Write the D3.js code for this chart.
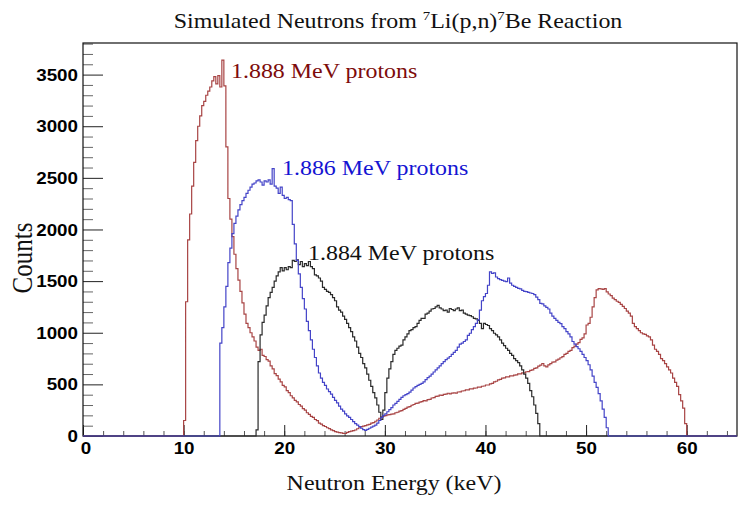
<!DOCTYPE html>
<html>
<head>
<meta charset="utf-8">
<script src="https://cdn.jsdelivr.net/npm/d3@7"></script>
<style>
  body { margin: 0; background: #fff; }
</style>
</head>
<body>
<div id="chart"></div>
<script>
// histogram bins are 0.2 keV wide, each series listed from its first non-empty bin
const binWidth = 0.2;

const p1888Start = 10.0;
const p1888 = [
  150, 1300, 1900, 2150, 2420, 2650, 2860, 3000, 3100, 3200,
  3240, 3300, 3340, 3380, 3440, 3480, 3410, 3490, 3380, 3640,
  3390, 2800, 2300, 2100, 1930, 1760, 1620, 1510, 1400, 1290,
  1180, 1090, 1050, 1000, 960, 920, 860, 830, 840, 780,
  770, 740, 725, 680, 650, 605, 585, 550, 525, 490,
  475, 440, 420, 390, 370, 345, 330, 305, 290, 265,
  250, 225, 210, 190, 180, 160, 148, 125, 115, 100,
  92, 80, 72, 60, 52, 42, 38, 33, 30, 26,
  24, 35, 42, 48, 52, 58, 70, 80, 90, 95,
  100, 108, 112, 124, 130, 143, 155, 172, 185, 192,
  198, 205, 207, 212, 215, 225, 230, 240, 245, 258,
  268, 280, 285, 298, 305, 315, 318, 328, 332, 342,
  340, 352, 355, 368, 372, 384, 386, 396, 394, 404,
  406, 414, 408, 416, 418, 415, 426, 428, 436, 438,
  446, 446, 456, 456, 464, 465, 474, 474, 482, 484,
  494, 494, 504, 510, 524, 530, 544, 548, 560, 562,
  572, 572, 582, 582, 590, 592, 602, 602, 612, 612,
  622, 624, 636, 640, 654, 660, 676, 686, 702, 680,
  670, 688, 700, 716, 718, 735, 745, 758, 768, 790,
  800, 820, 830, 855, 870, 890, 905, 935, 950, 990,
  1075, 1090, 1150, 1250, 1340, 1415, 1428, 1425, 1420, 1428,
  1395, 1375, 1360, 1335, 1320, 1305, 1295, 1275, 1255, 1235,
  1210, 1190, 1160, 1090, 1060, 1040, 1020, 1000, 990, 985,
  970, 960, 930, 880, 840, 820, 790, 750, 730, 700,
  670, 640, 610, 560, 520, 480, 400, 340, 270, 120
];

const p1886Start = 13.6;
const p1886 = [
  900, 1050, 1250, 1450, 1680, 1820, 1960, 2060, 2130, 2190,
  2240, 2280, 2310, 2350, 2380, 2410, 2440, 2450, 2470, 2480,
  2460, 2430, 2470, 2460, 2480, 2440, 2590, 2420, 2400, 2350,
  2410, 2330, 2300, 2310, 2290, 2280, 2050, 1860, 1700, 1570,
  1440, 1330, 1230, 1110, 1020, 930, 840, 760, 680, 610,
  560, 520, 490, 455, 430, 405, 375, 345, 320, 290,
  260, 240, 215, 195, 180, 160, 140, 120, 105, 90,
  75, 62, 55, 65, 75, 85, 95, 105, 125, 150,
  180, 200, 215, 235, 255, 275, 300, 315, 335, 355,
  375, 390, 400, 410, 425, 445, 465, 478, 490, 500,
  510, 525, 545, 565, 580, 600, 620, 640, 660, 680,
  700, 720, 740, 755, 770, 790, 810, 830, 860, 890,
  900, 915, 930, 975, 995, 1030, 1060, 1090, 1125, 1220,
  1310, 1350, 1380, 1460, 1590, 1575, 1580, 1540, 1525, 1515,
  1508, 1500, 1495, 1530, 1480, 1460, 1450, 1440, 1430, 1425,
  1410, 1400, 1398, 1390, 1385, 1380, 1370, 1345, 1320, 1285,
  1280, 1260, 1245, 1230, 1190, 1160, 1140, 1120, 1100, 1088,
  1060, 1040, 1010, 990, 960, 915, 890, 865, 845, 820,
  790, 760, 730, 690, 640, 580, 520, 470, 410, 340,
  260, 180, 80
];

const p1884Start = 17.2;
const p1884 = [
  60, 720, 980, 1100, 1170, 1260, 1340, 1390, 1440, 1500,
  1550, 1590, 1630, 1600, 1630, 1610, 1640, 1630, 1700, 1690,
  1705, 1660, 1690, 1640, 1670, 1650, 1690, 1640, 1620, 1560,
  1550, 1530, 1500, 1440, 1420, 1400, 1390, 1370, 1340, 1310,
  1250, 1220, 1200, 1160, 1130, 1090, 1050, 1010, 960, 920,
  860, 800, 760, 700, 660, 600, 540, 480, 420, 370,
  300, 230, 160, 250, 420, 560, 650, 720, 790, 830,
  850, 870, 880, 930, 960, 990, 1020, 1030, 1050, 1060,
  1090, 1120, 1140, 1140, 1180, 1190, 1210, 1230, 1235, 1250,
  1265, 1240, 1230, 1215, 1220, 1200, 1235, 1225, 1215, 1230,
  1240, 1215, 1220, 1190, 1180, 1170, 1165, 1155, 1140, 1135,
  1120, 1090, 1040, 1090, 1080, 1070, 1040, 1020, 995, 980,
  960, 930, 900, 875, 850, 830, 800, 780, 750, 730,
  710, 680, 640, 600, 560, 510, 440, 380, 300, 220,
  120
];

const xMajorTicks = [0, 10, 20, 30, 40, 50, 60];
const yMajorTicks = [0, 500, 1000, 1500, 2000, 2500, 3000, 3500];

const series = [
  { name: "1.888 MeV protons", start: p1888Start, values: p1888, line: "#a84444", text: "#7d0b0b", lx: 231, ly: 78 },
  { name: "1.884 MeV protons", start: p1884Start, values: p1884, line: "#2a2a2a", text: "#111", lx: 308, ly: 260 },
  { name: "1.886 MeV protons", start: p1886Start, values: p1886, line: "#4444c8", text: "#1414d2", lx: 282, ly: 175 }
];

const width = 745;
const height = 510;
const stretch = 1.14; // the picture's lettering is a little wider than the fonts

const x = d3.scaleLinear().domain([0, 65]).range([83, 737]);
const y = d3.scaleLinear().domain([0, 3806]).range([436, 43]);

const svg = d3.select("#chart")
  .append("svg")
  .attr("width", width)
  .attr("height", height)
  .style("font-family", "'Liberation Serif', 'Times New Roman', serif");

function stretchedText(px, py, str, size, anchor) {
  return svg.append("text")
    .attr("transform", `translate(${px},${py}) scale(${stretch},1)`)
    .attr("text-anchor", anchor)
    .attr("font-size", size)
    .text(str);
}

// x axis ticks point up into the frame
svg.append("g")
  .attr("transform", `translate(0,${y(0)})`)
  .call(d3.axisBottom(x).tickValues(d3.range(0, 65, 2)).tickSize(-5).tickFormat(""))
  .call(g => g.select(".domain").remove())
  .selectAll("line").attr("stroke", "#555");

const xAxis = svg.append("g")
  .attr("transform", `translate(0,${y(0)})`)
  .call(d3.axisBottom(x).tickValues(xMajorTicks).tickSize(-11).tickPadding(6).tickFormat(d3.format("d")))
  .call(g => g.select(".domain").remove());
xAxis.selectAll("line").attr("stroke", "#222");
xAxis.selectAll("text")
  .attr("font-family", "'Liberation Sans', Arial, sans-serif")
  .attr("font-weight", "bold")
  .attr("font-size", 16.5)
  .attr("fill", "#000")
  .attr("transform", `scale(${stretch},1)`)
  .attr("x", d => d === 0 ? 2.5 / stretch : 0);

// y axis ticks point right into the frame
svg.append("g")
  .attr("transform", `translate(${x(0)},0)`)
  .call(d3.axisLeft(y).tickValues(d3.range(0, 3801, 100).filter(v => v % 500)).tickSize(-10).tickFormat(""))
  .call(g => g.select(".domain").remove())
  .selectAll("line").attr("stroke", "#666");

const yAxis = svg.append("g")
  .attr("transform", `translate(${x(0)},0)`)
  .call(d3.axisLeft(y).tickValues(yMajorTicks).tickSize(-20).tickFormat(d3.format("d")))
  .call(g => g.select(".domain").remove());
yAxis.selectAll("line").attr("stroke", "#222");
yAxis.selectAll("text")
  .attr("font-family", "'Liberation Sans', Arial, sans-serif")
  .attr("font-weight", "bold")
  .attr("font-size", 16.5)
  .attr("fill", "#000")
  .attr("transform", `scale(${stretch},1)`)
  .attr("x", -5 / stretch)
  .attr("dy", "0.34em");

// frame
svg.append("rect")
  .attr("x", x(0))
  .attr("y", y.range()[1])
  .attr("width", x(65) - x(0))
  .attr("height", y(0) - y.range()[1])
  .attr("fill", "none")
  .attr("stroke", "#111")
  .attr("stroke-width", 1.2);

// histograms, zero bins included so the outline runs along the axis
const nBins = Math.round(65 / binWidth);
const line = d3.line()
  .x(d => x(d[0]))
  .y(d => y(d[1]))
  .curve(d3.curveStepAfter);

series.forEach(s => {
  const first = Math.round(s.start / binWidth);
  const pts = d3.range(nBins).map(i => {
    const k = i - first;
    return [i * binWidth, k >= 0 && k < s.values.length ? s.values[k] : 0];
  });
  pts.push([65, 0]);
  svg.append("path")
    .datum(pts)
    .attr("d", line)
    .attr("fill", "none")
    .attr("stroke", s.line)
    .attr("stroke-width", 1.2);
});

series.forEach(s => {
  stretchedText(s.lx, s.ly, s.name, 21, "start").attr("fill", s.text);
});

// title with superscript mass numbers
const title = stretchedText(398, 28, "", 21, "middle").attr("fill", "#111");
title.append("tspan").text("Simulated Neutrons from ");
title.append("tspan").attr("font-size", 13).attr("dy", -8).text("7");
title.append("tspan").attr("dy", 8).text("Li(p,n)");
title.append("tspan").attr("font-size", 13).attr("dy", -8).text("7");
title.append("tspan").attr("dy", 8).text("Be Reaction");

stretchedText(394, 490, "Neutron Energy (keV)", 21, "middle").attr("fill", "#111");

svg.append("text")
  .attr("transform", `translate(32,258) scale(${stretch},1) rotate(-90)`)
  .attr("text-anchor", "middle")
  .attr("font-size", 25)
  .attr("fill", "#111")
  .text("Counts");
</script>
</body>
</html>
